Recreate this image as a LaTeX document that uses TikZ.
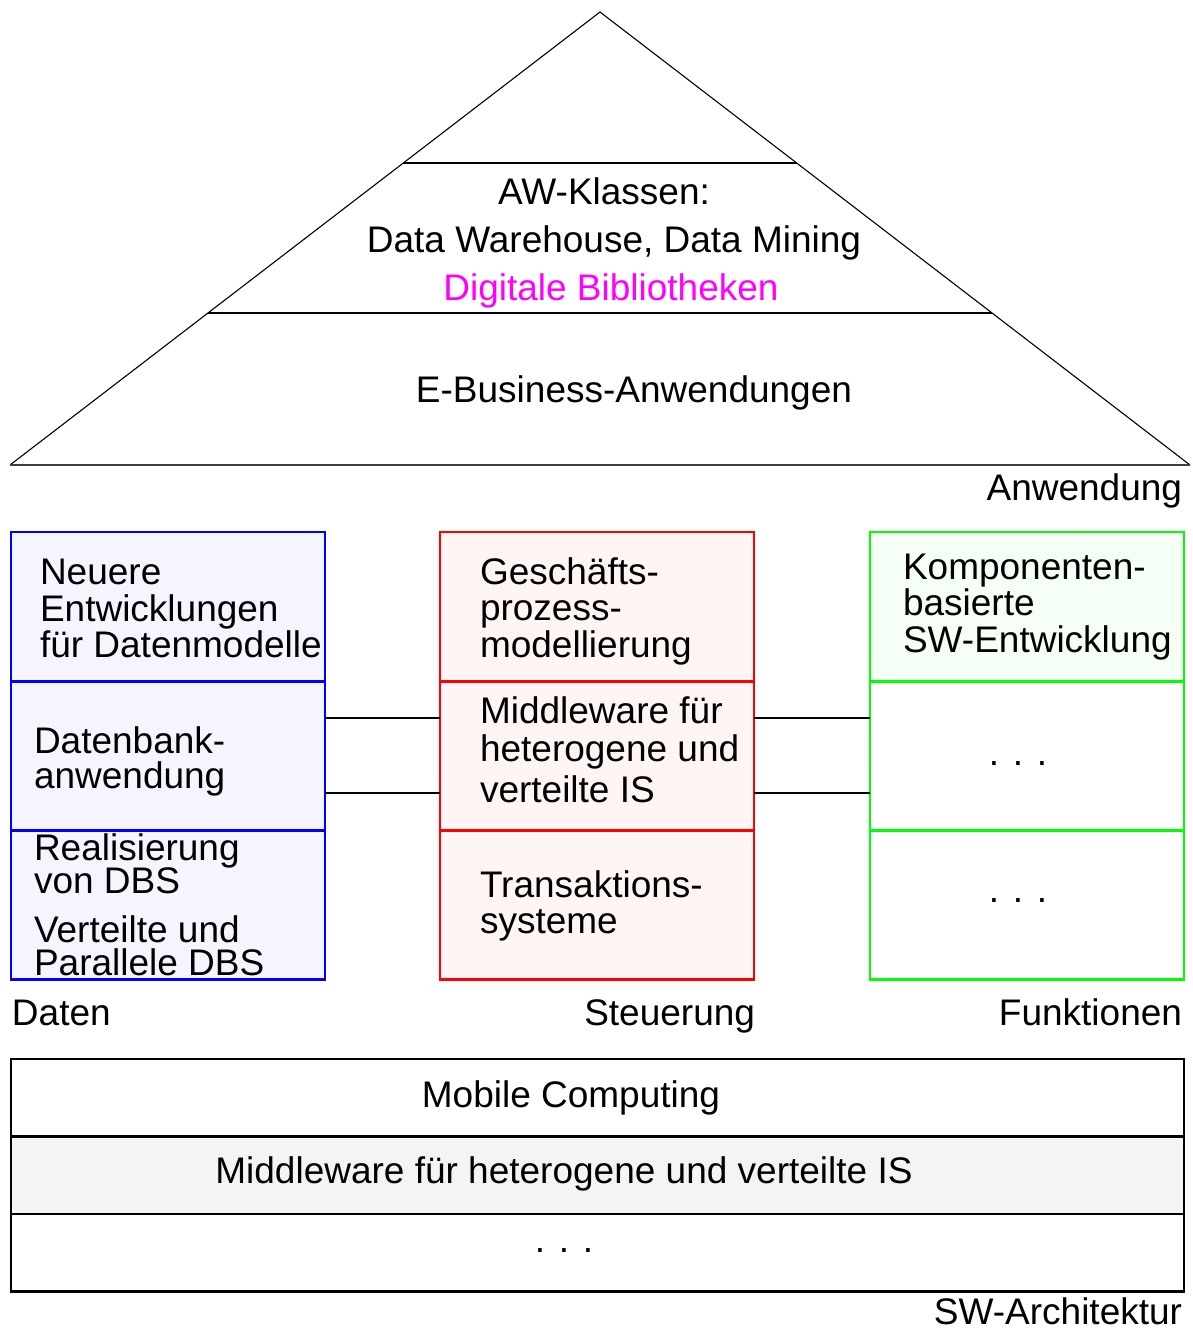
\documentclass[tikz,border=0pt]{standalone}
\usepackage{fontspec}
\usetikzlibrary{calc}
\setmainfont{Liberation Sans}
\definecolor{bfill}{HTML}{F5F5FF}
\definecolor{rfill}{HTML}{FFF5F5}
\definecolor{gfill}{HTML}{F5FFF5}
\definecolor{mfill}{HTML}{F4F4F4}
\definecolor{bline}{HTML}{0000FF}
\definecolor{rline}{HTML}{FF0000}
\definecolor{gline}{HTML}{00FF00}
\definecolor{magentatext}{HTML}{FF00FF}
\tikzset{
  txt/.style={inner sep=0pt, outer sep=0pt, font=\fontsize{37}{37}\selectfont},
  tl/.style={txt, anchor=base west},
  tc/.style={txt, anchor=base},
  tr/.style={txt, anchor=base east},
  sect/.style={draw, line width=2.2pt, anchor=north west, inner sep=0pt, outer sep=0pt, minimum width=314pt, minimum height=149pt},
  bsect/.style={sect, draw=bline, fill=bfill},
  rsect/.style={sect, draw=rline, fill=rfill},
  gsect/.style={sect, draw=gline},
  asect/.style={draw, line width=2.2pt, anchor=north west, inner sep=0pt, outer sep=0pt, minimum width=1173pt, minimum height=77.5pt},
  conn/.style={line width=2pt},
}
\begin{document}
\begin{tikzpicture}[x=1pt,y=-1pt]
\useasboundingbox (0,0) rectangle (1192,1330);
% pyramid
\coordinate (apex) at (600,12);
\coordinate (bl) at (10,465);
\coordinate (br) at (1190,465);
\draw[line width=1.1pt] (bl) -- (apex) -- (br);
\draw[line width=2pt, black!75] (bl) -- (br);
\draw[line width=2pt] ($(bl)!0.6667!(apex)$) coordinate (l1) -- ($(br)!0.6667!(apex)$) coordinate (r1);
\draw[line width=2pt] ($(bl)!0.3355!(apex)$) coordinate (l2) -- ($(br)!0.3355!(apex)$) coordinate (r2);
\node[tc] (aw) at (604,204) {AW-Klassen:};
\node[tc] (dw) at (614,252) {Data Warehouse, Data Mining};
\node[tc, text=magentatext] (dl) at (611,300) {Digitale Bibliotheken};
\node[tc] (eb) at (634,402) {E-Business-Anwendungen};
\node[tr] (anw) at (1182,500) {Anwendung};
% blue column
\node[bsect] (b1) at (11,532) {};
\node[bsect] (b2) at (11,681.5) {};
\node[bsect] (b3) at (11,830.5) {};
\node[tl] (b1a) at (40,584) {Neuere};
\node[tl] (b1b) at (40,621) {Entwicklungen};
\node[tl] (b1c) at (40,657) {für Datenmodelle};
\node[tl] (b2a) at (34,753) {Datenbank-};
\node[tl] (b2b) at (34,788) {anwendung};
\node[tl] (b3a) at (34,860) {Realisierung};
\node[tl] (b3b) at (34,893) {von DBS};
\node[tl] (b3c) at (34,942) {Verteilte und};
\node[tl] (b3d) at (34,975) {Parallele DBS};
% red column
\node[rsect] (s1) at (440,532) {};
\node[rsect] (s2) at (440,681.5) {};
\node[rsect] (s3) at (440,830.5) {};
\node[tl] (s1a) at (480,584) {Geschäfts-};
\node[tl] (s1b) at (480,620) {prozess-};
\node[tl] (s1c) at (480,657) {modellierung};
\node[tl] (s2a) at (480,723) {Middleware für};
\node[tl] (s2b) at (480,761) {heterogene und};
\node[tl] (s2c) at (480,802) {verteilte IS};
\node[tl] (s3a) at (480,897) {Transaktions-};
\node[tl] (s3b) at (480,933) {systeme};
% green column
\node[gsect, fill=gfill] (g1) at (870,532) {};
\node[gsect] (g2) at (870,681.5) {};
\node[gsect] (g3) at (870,830.5) {};
\node[tl] (g1a) at (903,579) {Komponenten-};
\node[tl] (g1b) at (903,615) {basierte};
\node[tl] (g1c) at (903,652) {SW-Entwicklung};
\node[tc] (g2a) at (1018,765) {. . .};
\node[tc] (g3a) at (1018,902) {. . .};
% connectors
\draw[conn] (b2.east |- 0,718) -- (s2.west |- 0,718);
\draw[conn] (b2.east |- 0,793) -- (s2.west |- 0,793);
\draw[conn] (s2.east |- 0,718) -- (g2.west |- 0,718);
\draw[conn] (s2.east |- 0,793) -- (g2.west |- 0,793);
% column labels
\node[tl] (ldaten) at (12,1025) {Daten};
\node[tr] (lsteu) at (755,1025) {Steuerung};
\node[tr] (lfunk) at (1182,1025) {Funktionen};
% architecture
\node[asect] (a1) at (11,1059) {};
\node[asect, fill=mfill] (a2) at (11,1136.5) {};
\node[asect] (a3) at (11,1214) {};
\node[tc] (a1t) at (571,1107) {Mobile Computing};
\node[tc] (a2t) at (564,1183) {Middleware für heterogene und verteilte IS};
\node[tc] (a3t) at (564,1252) {. . .};
\node[tr] (lsw) at (1182,1324) {SW-Architektur};
\end{tikzpicture}
\end{document}
